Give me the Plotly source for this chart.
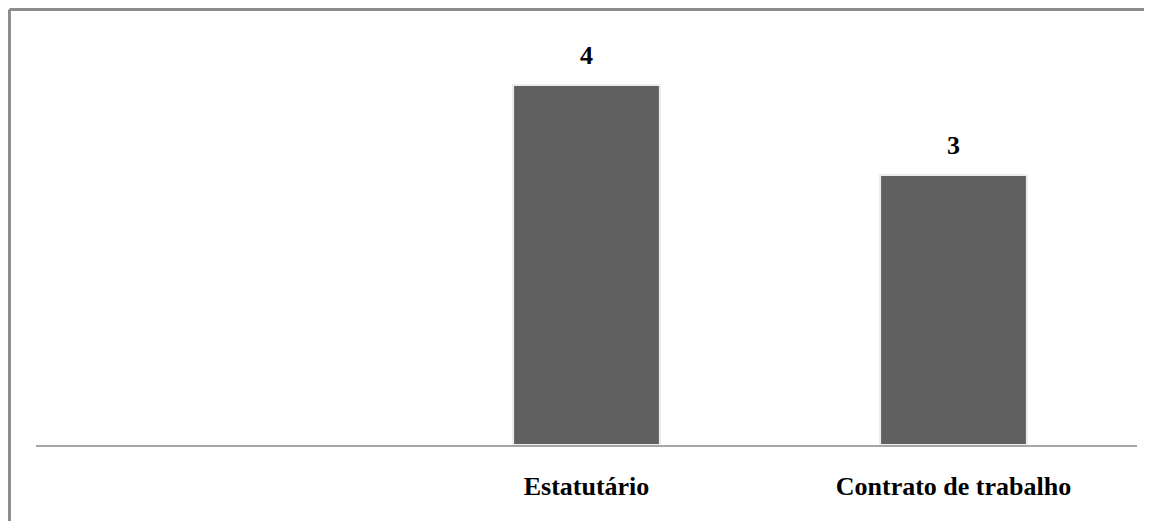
import plotly.graph_objects as go

categories = [" ", "Estatutário", "Contrato de trabalho"]
values = [None, 4, 3]
labels = ["", "4", "3"]

font_family = "Liberation Serif, Times New Roman, serif"

fig = go.Figure()
fig.add_trace(go.Bar(
    x=categories,
    y=values,
    marker=dict(color="#606060", line=dict(color="#ececec", width=2)),
    hoverinfo="x+y",
))

for c, v, t in zip(categories, values, labels):
    if v is None:
        continue
    fig.add_annotation(
        x=c, y=v, text="<b>%s</b>" % t, showarrow=False,
        yanchor="bottom", yshift=13,
        font=dict(family=font_family, size=26, color="#000000"),
    )

# outer frame (top and left edges visible)
fig.add_shape(type="line", xref="paper", yref="paper",
              x0=-0.0241, x1=1.2, y0=1.0753, y1=1.0753,
              line=dict(color="#8c8c8c", width=3))
fig.add_shape(type="line", xref="paper", yref="paper",
              x0=-0.0241, x1=-0.0241, y0=-0.5, y1=1.0753,
              line=dict(color="#8c8c8c", width=3))

fig.update_layout(
    width=1144, height=513,
    margin=dict(l=28, r=15, t=32, b=76),
    paper_bgcolor="white", plot_bgcolor="white",
    bargap=0.6,
    showlegend=False,
    xaxis=dict(
        showline=True, linecolor="#a6a6a6", linewidth=2,
        showgrid=False, zeroline=False, ticks="",
        ticklabelstandoff=17,
        tickfont=dict(family=font_family, size=26, color="#000000"),
        tickprefix="<b>", ticksuffix="</b>",
    ),
    yaxis=dict(range=[0, 4.5], visible=False, fixedrange=True),
)

fig.write_html("out.html")
